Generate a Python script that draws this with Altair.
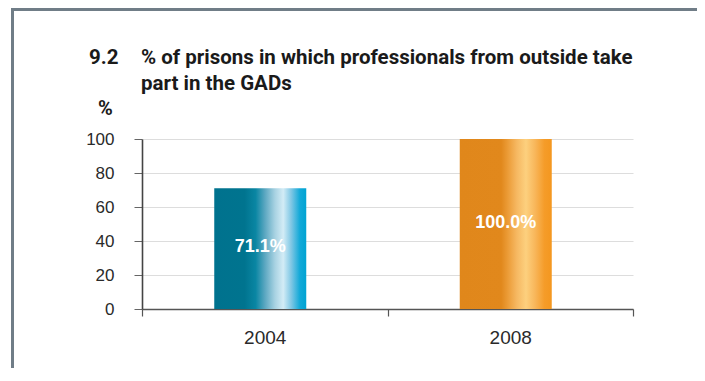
import altair as alt
import pandas as pd

# ---- data ----
years = ["2004", "2008"]
values = [71.1, 100.0]
value_labels = ["71.1%", "100.0%"]
y_ticks = [0, 20, 40, 60, 80, 100]
title_number = "9.2"
title_text = "% of prisons in which professionals from outside take\npart in the GADs"
y_title = "%"

df = pd.DataFrame({"year": years, "value": values, "label": value_labels})

W, H = 491, 170
BAR_W = 92
TITLE_FONT = "Roboto, Liberation Sans, sans-serif"
BODY_FONT = "Liberation Sans, Arial, Helvetica, sans-serif"

teal = alt.Gradient(
    gradient="linear", x1=0, x2=1, y1=0, y2=0,
    stops=[
        alt.GradientStop(color="#00728e", offset=0),
        alt.GradientStop(color="#00748f", offset=0.33),
        alt.GradientStop(color="#0a86a3", offset=0.45),
        alt.GradientStop(color="#5ba7c1", offset=0.55),
        alt.GradientStop(color="#a8d2e2", offset=0.66),
        alt.GradientStop(color="#d3ecf6", offset=0.75),
        alt.GradientStop(color="#7cc6e4", offset=0.84),
        alt.GradientStop(color="#12a9d8", offset=0.93),
        alt.GradientStop(color="#00a3d3", offset=1),
    ],
)
orange = alt.Gradient(
    gradient="linear", x1=0, x2=1, y1=0, y2=0,
    stops=[
        alt.GradientStop(color="#e0871b", offset=0),
        alt.GradientStop(color="#e1881c", offset=0.45),
        alt.GradientStop(color="#eb9b36", offset=0.52),
        alt.GradientStop(color="#f6b862", offset=0.62),
        alt.GradientStop(color="#fdd07e", offset=0.72),
        alt.GradientStop(color="#f8b65a", offset=0.82),
        alt.GradientStop(color="#f59c29", offset=0.92),
        alt.GradientStop(color="#f4971f", offset=1),
    ],
)

x_scale = alt.Scale(domain=years, paddingInner=0, paddingOuter=0)
y_scale = alt.Scale(domain=[0, 100], nice=False)

x_axis = alt.Axis(
    title=None, labelAngle=0, tickBand="extent", tickSize=7, tickColor="#555555",
    tickWidth=1.2, domainColor="#555555", domainWidth=1.5, labelFontSize=19,
    labelColor="#2a2a2a", labelFont=BODY_FONT, labelPadding=12, grid=False,
)
y_axis = alt.Axis(
    values=y_ticks, title=y_title, titleAngle=0, titleX=-37, titleY=-25,
    titleAlign="center", titleBaseline="alphabetic", titleFont=TITLE_FONT,
    titleFontSize=20, titleFontWeight="bold", titleColor="#1a1a1a",
    labelFontSize=17, labelFont=BODY_FONT, labelColor="#2a2a2a", labelPadding=20,
    labelOverlap=False, tickSize=8, tickColor="#666666", tickWidth=1,
    domainColor="#444444", domainWidth=1.6, gridColor="#dddddd", gridWidth=1,
)

base = alt.Chart(df)

bars = base.mark_bar(width=BAR_W, xOffset=-4.5).encode(
    x=alt.X("year:N", title=None, scale=x_scale, axis=x_axis),
    y=alt.Y("value:Q", title=y_title, scale=y_scale, axis=y_axis),
    color=alt.condition(alt.datum.year == years[0], alt.value(teal), alt.value(orange)),
)

labels = base.transform_calculate(mid="datum.value / 2").mark_text(
    color="white", fontSize=18, fontWeight="bold", font=BODY_FONT,
    baseline="middle", dy=-1.5, xOffset=-4.5,
).encode(
    x=alt.X("year:N", title=None, scale=x_scale, axis=x_axis),
    y=alt.Y("mid:Q", title=y_title, scale=y_scale, axis=y_axis),
    text="label:N",
)

one = alt.Chart(pd.DataFrame({"n": [title_number], "t": [title_text]}))

frame_top = one.mark_rule(color="#707d87", strokeWidth=3).encode(
    x=alt.value(-131), x2=alt.value(W + 200), y=alt.value(-129.5)
)
frame_left = one.mark_rule(color="#707d87", strokeWidth=3).encode(
    x=alt.value(-129.5), y=alt.value(-131), y2=alt.value(H + 200)
)

num_text = one.mark_text(
    align="left", baseline="alphabetic", font=TITLE_FONT, fontSize=20.5,
    fontWeight="bold", color="#1a1a1a",
).encode(x=alt.value(-53), y=alt.value(-75), text="n:N")

main_text = one.mark_text(
    align="left", baseline="alphabetic", font=TITLE_FONT, fontSize=20.5,
    fontWeight="bold", color="#1a1a1a", lineBreak="\n", lineHeight=26,
).encode(x=alt.value(-1), y=alt.value(-75), text="t:N")

chart = (
    alt.layer(bars, labels, frame_top, frame_left, num_text, main_text)
    .properties(
        width=W, height=H,
        autosize=alt.AutoSizeParams(type="none"),
        padding={"left": 134, "top": 131, "right": 64, "bottom": 59},
        background="white",
    )
    .configure_view(stroke=None)
)

chart.save("out.html", embed_options={"renderer": "svg", "actions": False})
